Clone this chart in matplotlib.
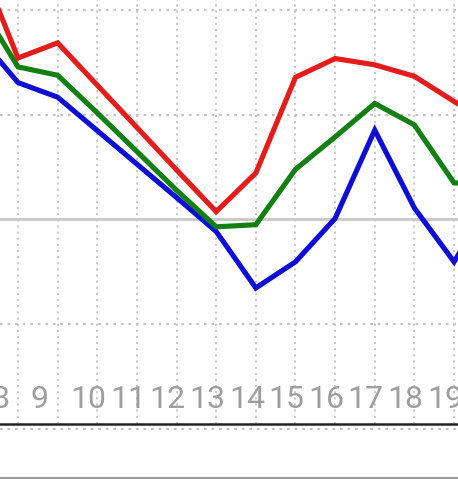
import matplotlib
matplotlib.use("Agg")
import matplotlib.pyplot as plt
import matplotlib.transforms as mtransforms

# ---- data ----
x_vals = [7, 8, 9, 10, 11, 12, 13, 14, 15, 16, 17, 18, 19, 20]
red = [24.9, 15.45, 16.9, 12.85, 8.8, 4.75, 0.75, 4.45, 13.6, 15.4, 14.8, 13.7, 11.3, 9.0]
green = [20.8, 14.6, 13.8, 10.2, 6.5, 2.8, -0.7, -0.5, 4.8, 7.9, 11.1, 9.05, 3.5, 3.4]
blue = [17.6, 13.1, 11.7, 8.5, 5.3, 2.1, -1.15, -6.55, -4.05, 0.1, 8.55, 1.1, -4.05, 2.3]
tick_vals = [8, 9, 10, 11, 12, 13, 14, 15, 16, 17, 18, 19]
tick_labels = ["8", "9", "10", "11", "12", "13", "14", "15", "16", "17", "18", "19"]
hgrid_vals = [20, 10, -10, -20]

fig = plt.figure(figsize=(4.58, 4.79), dpi=100)
ax = fig.add_axes([0, 0, 1, 1])
ax.set_xlim(7.546, 19.10)
ax.set_ylim(-24.83, 21.0)
for s in ax.spines.values():
    s.set_visible(False)
ax.set_xticks([])
ax.set_yticks([])

axis_y = -19.6
grid_col = "#c4c4c4"
# vertical dotted grid
ax.vlines(tick_vals, axis_y, 21.0, colors=grid_col, linestyles=(0, (1.2, 2.2)), linewidth=1.3, zorder=1)
# horizontal dotted grid
for v in hgrid_vals:
    ax.axhline(v, color=grid_col, linestyle=(0, (1.2, 2.2)), linewidth=1.6, zorder=1)
# zero line
ax.axhline(0, color="#c8c8c8", linewidth=2.0, zorder=1)
# axis line
ax.axhline(axis_y, color="#222222", linewidth=1.8, zorder=2)
# bottom separator
ax.axhline(-24.75, color="#9a9a9a", linewidth=1.5, zorder=2)

lw = 3.7
ax.plot(x_vals, red, color="#e41c1c", linewidth=lw, solid_joinstyle="miter", zorder=5)
ax.plot(x_vals, green, color="#127f12", linewidth=lw, solid_joinstyle="miter", zorder=4)
ax.plot(x_vals, blue, color="#0d0dd6", linewidth=lw, solid_joinstyle="miter", zorder=3)

# x labels (inside the chart, left-aligned just before grid lines)
offset = mtransforms.ScaledTranslation(-27 / 100, 0, fig.dpi_scale_trans)
for xv, lab in zip(tick_vals, tick_labels):
    ax.text(xv, -18.04, lab, ha="left", va="baseline", fontsize=23,
            family=["Roboto", "DejaVu Sans"], color="#9e9e9e",
            transform=ax.transData + offset, zorder=6)

fig.savefig("out.png", dpi=100)
